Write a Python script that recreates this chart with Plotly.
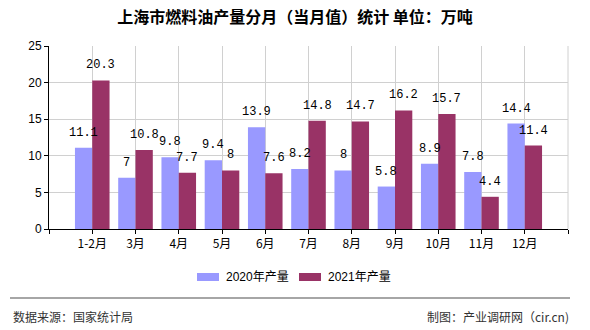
import plotly.graph_objects as go

categories = ["1-2月", "3月", "4月", "5月", "6月", "7月", "8月", "9月", "10月", "11月", "12月"]
values_2020 = [11.1, 7, 9.8, 9.4, 13.9, 8.2, 8, 5.8, 8.9, 7.8, 14.4]
values_2021 = [20.3, 10.8, 7.7, 8, 7.6, 14.8, 14.7, 16.2, 15.7, 4.4, 11.4]
series_names = ["2020年产量", "2021年产量"]
colors = ["#9999FF", "#993366"]

W, H = 590, 330
L, R, T, B = 49, 22, 46, 101
PW, PH = W - L - R, H - T - B

def px(x):
    return (x - L) / PW

def py(y):
    return (H - B - y) / PH

idx = list(range(len(categories)))
fig = go.Figure()
for name, vals, col in zip(series_names, [values_2020, values_2021], colors):
    fig.add_trace(go.Bar(x=idx, y=vals, name=name, marker=dict(color=col, line=dict(width=0)),
                         showlegend=False))

annotations = []
for off, vals in [(-0.2, values_2020), (0.2, values_2021)]:
    for i, v in zip(idx, vals):
        annotations.append(dict(x=i + off, y=v, xref="x", yref="y", text=f"{v:g}",
                                showarrow=False, yanchor="bottom", yshift=6,
                                font=dict(family="Liberation Mono, monospace", size=12, color="#000")))

# legend (manual)
shapes = []
leg = [(197, 219, 224), (299, 321, 326)]
for (x0, x1, tx), name, col in zip(leg, series_names, colors):
    shapes.append(dict(type="rect", xref="paper", yref="paper", x0=px(x0), x1=px(x1),
                       y0=py(281), y1=py(273), fillcolor=col, line=dict(width=0)))
    annotations.append(dict(x=px(tx), y=py(277), xref="paper", yref="paper", text=name,
                            showarrow=False, xanchor="left", yanchor="middle",
                            font=dict(family="Liberation Sans, Noto Sans CJK SC", size=12, color="#000")))

# footer
shapes.append(dict(type="line", xref="paper", yref="paper", x0=px(10), x1=px(570),
                   y0=py(298), y1=py(298), line=dict(color="#888888", width=1.5)))
annotations.append(dict(x=px(11), y=py(316), xref="paper", yref="paper", text="数据来源：国家统计局",
                        showarrow=False, xanchor="left", yanchor="middle",
                        font=dict(family="Noto Sans CJK SC", size=12, color="#333")))
annotations.append(dict(x=px(571), y=py(316), xref="paper", yref="paper", text="制图：产业调研网（cir.cn)",
                        showarrow=False, xanchor="right", yanchor="middle",
                        font=dict(family="Noto Sans CJK SC", size=12, color="#333")))

tickvals = list(range(-1, len(categories) + 1))
ticktext = [""] + categories + [""]

fig.update_layout(
    width=W, height=H,
    margin=dict(l=L, r=R, t=T, b=B),
    paper_bgcolor="white", plot_bgcolor="white",
    barmode="group", bargap=0.2, bargroupgap=0,
    title=dict(text="上海市燃料油产量分月（当月值）统计 单位：万吨", x=0.5, xref="container",
               y=1 - 17 / H, yref="container", xanchor="center", yanchor="middle",
               font=dict(family="Noto Sans CJK SC", size=16, color="#000", weight="bold")),
    xaxis=dict(range=[-1, len(categories)], tickvals=tickvals, ticktext=ticktext,
               showgrid=True, gridcolor="#d0d0d0", gridwidth=1,
               showline=True, linecolor="#000", linewidth=1,
               ticks="outside", ticklen=4, tickcolor="#000", zeroline=False,
               tickfont=dict(family="Noto Sans CJK SC", size=12, color="#000")),
    yaxis=dict(range=[0, 25], dtick=5, showgrid=True, gridcolor="#d0d0d0", gridwidth=1,
               showline=True, linecolor="#000", linewidth=1, zeroline=False,
               ticks="outside", ticklen=4, tickcolor="#000",
               tickfont=dict(family="Liberation Sans", size=12, color="#000")),
    shapes=shapes, annotations=annotations,
)
fig.add_shape(type="line", xref="paper", yref="paper", x0=1, x1=1, y0=0, y1=1,
              line=dict(color="#d0d0d0", width=1))

fig.write_html("out.html")
